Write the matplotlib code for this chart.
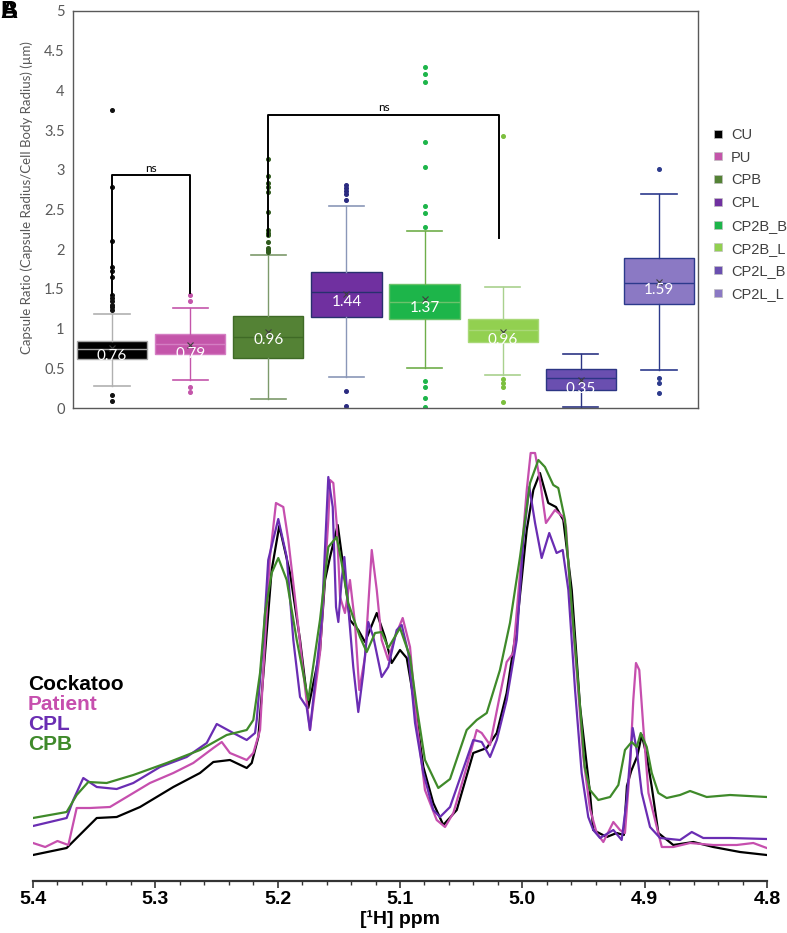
import matplotlib
matplotlib.use('Agg')
from matplotlib import pyplot as plt
from matplotlib.lines import Line2D
from matplotlib.ticker import MultipleLocator, FormatStrFormatter

# ---------------- box plot data (capsule ratio) ----------------
groups = ['CU', 'PU', 'CPB', 'CPL', 'CP2B_B', 'CP2B_L', 'CP2L_B', 'CP2L_L']
q1 = [0.62, 0.68, 0.63, 1.15, 1.12, 0.83, 0.23, 1.31]
med = [0.74, 0.81, 0.89, 1.46, 1.34, 0.98, 0.38, 1.58]
q3 = [0.85, 0.93, 1.16, 1.71, 1.56, 1.12, 0.49, 1.89]
whislo = [0.28, 0.35, 0.11, 0.39, 0.50, 0.42, 0.01, 0.48]
whishi = [1.18, 1.26, 1.93, 2.55, 2.23, 1.52, 0.68, 2.70]
means = [0.76, 0.79, 0.96, 1.44, 1.37, 0.96, 0.35, 1.59]
fliers = [
    [0.09, 0.17, 1.23, 1.27, 1.30, 1.35, 1.38, 1.42, 1.65, 1.72, 1.78, 2.10, 2.78, 3.75],
    [0.20, 0.26, 1.35, 1.42],
    [1.96, 1.99, 2.02, 2.09, 2.18, 2.21, 2.24, 2.47, 2.72, 2.78, 2.84, 2.92, 3.13],
    [0.02, 0.21, 2.62, 2.69, 2.73, 2.77, 2.81],
    [0.01, 0.12, 0.27, 0.34, 2.28, 2.46, 2.55, 3.04, 3.35, 4.10, 4.21, 4.29],
    [0.07, 0.26, 0.31, 0.37, 3.42],
    [],
    [0.19, 0.32, 0.38, 3.01],
]
# significance brackets
br_left = [0, 2]
br_right = [1, 4.95]
br_top = [2.93, 3.69]
br_left_low = [1.42, 2.16]
br_right_low = [1.45, 2.14]
br_text = ['ns', 'ns']

# ---------------- NMR spectra ----------------
cockatoo_ppm = [5.400, 5.3725, 5.3684, 5.3479, 5.3316, 5.3125, 5.2853, 5.2635, 5.2526, 5.2390,
                5.2253, 5.2212, 5.2158, 5.2103, 5.2049, 5.1987, 5.1899, 5.1817, 5.1750, 5.1654,
                5.1613, 5.1572, 5.1509, 5.1463, 5.1409, 5.1341, 5.1286, 5.1190, 5.1123, 5.1068,
                5.1000, 5.0945, 5.0877, 5.0809, 5.0728, 5.0646, 5.0536, 5.0401, 5.0291, 5.0209,
                5.0128, 5.0046, 4.9964, 4.9910, 4.9856, 4.9788, 4.9725, 4.9665, 4.9596, 4.9528,
                4.9447, 4.9420, 4.9310, 4.9229, 4.9170, 4.9145, 4.9110, 4.9060, 4.9024, 4.8983,
                4.8942, 4.8888, 4.8766, 4.8602, 4.8439, 4.8221, 4.8002]
cockatoo_int = [26, 33, 38, 63, 64, 74, 94, 108, 119, 121,
                113, 118, 144, 228, 311, 355, 308, 241, 173, 230,
                301, 324, 356, 314, 261, 251, 239, 268, 244, 218,
                231, 223, 174, 114, 78, 56, 71, 128, 133, 148,
                188, 254, 351, 391, 408, 378, 374, 361, 291, 174,
                88, 51, 44, 48, 46, 95, 110, 125, 146, 125,
                94, 48, 36, 39, 34, 29, 26]

patient_ppm = [5.400, 5.390, 5.380, 5.3711, 5.3643, 5.3534, 5.3371, 5.3180, 5.3044, 5.2853,
               5.2690, 5.2526, 5.2457, 5.2390, 5.2253, 5.2199, 5.2144, 5.2103, 5.2063, 5.2014,
               5.1954, 5.1913, 5.1844, 5.1790, 5.1736, 5.1654, 5.1586, 5.1572, 5.1545, 5.1518,
               5.1490, 5.1450, 5.1409, 5.1368, 5.1333, 5.1286, 5.1231, 5.1190, 5.1150, 5.1096,
               5.1041, 5.0978, 5.0918, 5.0863, 5.0796, 5.0700, 5.0632, 5.0564, 5.0455, 5.0373,
               5.0332, 5.0264, 5.0196, 5.0128, 5.0074, 5.0019, 4.9964, 4.9932, 4.9896, 4.9856,
               4.9807, 4.9733, 4.9665, 4.9643, 4.9610, 4.9555, 4.9502, 4.9447, 4.9392, 4.9338,
               4.9256, 4.9202, 4.9161, 4.9120, 4.9093, 4.9071, 4.9044, 4.9011, 4.8969, 4.8901,
               4.8860, 4.8766, 4.8629, 4.8439, 4.8248, 4.8112, 4.8002]
patient_int = [38, 34, 40, 36, 73, 73, 74, 88, 98, 108,
               118, 133, 139, 128, 121, 128, 151, 241, 324, 378,
               374, 341, 268, 208, 151, 228, 361, 401, 398, 358,
               284, 268, 301, 258, 191, 224, 331, 291, 241, 221,
               244, 263, 234, 158, 91, 61, 54, 68, 114, 151,
               148, 136, 178, 219, 228, 308, 391, 428, 428, 401,
               358, 371, 364, 354, 291, 208, 124, 72, 48, 39,
               59, 51, 48, 114, 181, 218, 211, 154, 88, 54,
               34, 34, 38, 36, 36, 38, 33]

cpl_ppm = [5.400, 5.3725, 5.3671, 5.3589, 5.3479, 5.3316, 5.3180, 5.2962, 5.2744, 5.2580,
           5.2498, 5.2363, 5.2253, 5.2185, 5.2171, 5.2117, 5.2077, 5.1995, 5.1926, 5.1872,
           5.1817, 5.1763, 5.1736, 5.1640, 5.1586, 5.1550, 5.1523, 5.1504, 5.1477, 5.1455,
           5.1423, 5.1382, 5.1341, 5.1300, 5.1259, 5.1218, 5.1150, 5.1096, 5.1027, 5.0986,
           5.0932, 5.0877, 5.0809, 5.0728, 5.0673, 5.0591, 5.0401, 5.0332, 5.0264, 5.0209,
           5.0128, 5.0046, 4.9992, 4.9943, 4.9896, 4.9842, 4.9780, 4.9720, 4.9670, 4.9624,
           4.9569, 4.9515, 4.9461, 4.9420, 4.9365, 4.9256, 4.9188, 4.9147, 4.9098, 4.9065,
           4.9024, 4.8956, 4.8874, 4.8711, 4.8615, 4.8521, 4.8302, 4.8002]
cpl_int = [55, 63, 81, 103, 94, 92, 98, 114, 124, 138,
           157, 148, 141, 148, 161, 241, 321, 362, 324, 241,
           184, 174, 151, 261, 404, 374, 274, 259, 301, 324,
           274, 214, 169, 208, 259, 244, 204, 214, 251, 256,
           228, 158, 108, 71, 64, 74, 141, 139, 124, 141,
           181, 241, 341, 394, 358, 323, 348, 328, 331, 291,
           191, 108, 64, 51, 43, 51, 41, 81, 153, 131,
           88, 54, 43, 41, 49, 43, 43, 42]

cpb_ppm = [5.400, 5.3725, 5.3643, 5.3548, 5.3398, 5.3180, 5.2907, 5.2635, 5.2417, 5.2253,
           5.2199, 5.2144, 5.2103, 5.2049, 5.1995, 5.1926, 5.1844, 5.1750, 5.1654, 5.1586,
           5.1518, 5.1477, 5.1423, 5.1327, 5.1272, 5.1204, 5.1150, 5.1096, 5.1000, 5.0918,
           5.0863, 5.0796, 5.0687, 5.0591, 5.0455, 5.0373, 5.0291, 5.0183, 5.0101, 5.0019,
           4.9937, 4.9869, 4.9815, 4.9747, 4.9706, 4.9651, 4.9596, 4.9528, 4.9490, 4.9447,
           4.9379, 4.9283, 4.9215, 4.9161, 4.9106, 4.9065, 4.9032, 4.8983, 4.8942, 4.8888,
           4.8820, 4.8711, 4.8629, 4.8493, 4.8302, 4.8002]
cpb_int = [63, 69, 86, 99, 98, 106, 118, 131, 146, 151,
           161, 208, 268, 308, 323, 301, 241, 181, 261, 334,
           344, 318, 278, 244, 229, 248, 249, 233, 253, 224,
           174, 121, 93, 102, 151, 161, 168, 211, 258, 324,
           398, 421, 414, 396, 393, 361, 274, 174, 114, 91,
           81, 84, 96, 131, 139, 134, 148, 134, 108, 88,
           83, 86, 90, 84, 86, 84]

spec_names = ['Cockatoo', 'Patient', 'CPL', 'CPB']
spec_ppm = [cockatoo_ppm, patient_ppm, cpl_ppm, cpb_ppm]
spec_int = [cockatoo_int, patient_int, cpl_int, cpb_int]
spec_colors = ['#000000', '#c64fae', '#6a2db3', '#3f8a2a']

# ---------------- styles ----------------
face = ['#000000', '#c455aa', '#548235', '#7030a0', '#1db54a', '#92d050', '#6a4fb0', '#8b79c4']
edge = ['#a6a6a6', '#d47ec3', '#3f6a26', '#28306e', '#6cc26b', '#a9d878', '#2c3584', '#2c3a8c']
whisk = ['#b0b0b0', '#c455aa', '#7d9a6b', '#8a97b8', '#6fae4a', '#a9d18e', '#2c3584', '#2c3a8c']
flier_c = ['#111111', '#c455aa', '#2f5a1c', '#2a2a80', '#1db54a', '#7cbf3e', '#2c3584', '#2c3a8c']

fig = plt.figure(figsize=(7.87, 9.33), dpi=100)

# ---------- panel A: box plot ----------
ax1 = fig.add_axes([73/787, 1-408/933, 625/787, 397/933])
stats = []
for i in range(len(groups)):
    stats.append(dict(med=med[i], q1=q1[i], q3=q3[i], whislo=whislo[i], whishi=whishi[i],
                      mean=means[i], fliers=fliers[i], label=groups[i]))
res = ax1.bxp(stats, positions=range(len(groups)), widths=0.9, patch_artist=True,
              showmeans=True, showfliers=True)
for i in range(len(groups)):
    b = res['boxes'][i]
    b.set_facecolor(face[i]); b.set_edgecolor(edge[i]); b.set_linewidth(1)
    res['medians'][i].set(color=edge[i] if i != 0 else '#a6a6a6', linewidth=1)
    for w in res['whiskers'][2*i:2*i+2]:
        w.set(color=whisk[i], linewidth=1)
    for c in res['caps'][2*i:2*i+2]:
        c.set(color=whisk[i], linewidth=1.2)
    res['fliers'][i].set(marker='o', markersize=2.6, markerfacecolor=flier_c[i],
                         markeredgecolor=flier_c[i], linestyle='none')
    res['means'][i].set(marker='x', markersize=5, markeredgecolor='#404040',
                        markerfacecolor='none', markeredgewidth=0.8)
    ax1.annotate(f'{means[i]:.2f}', (i, means[i]), xytext=(0, -1), textcoords='offset points',
                 ha='center', va='top', color='white', fontsize=11, family='Lato')

for k in range(len(br_left)):
    ax1.plot([br_left[k], br_left[k], br_right[k], br_right[k]],
             [br_left_low[k], br_top[k], br_top[k], br_right_low[k]], color='black', lw=1.4)
    ax1.text((br_left[k]+br_right[k])/2, br_top[k]+0.02, br_text[k], ha='center', va='bottom',
             fontsize=8.5, family='Lato')

ax1.set_xlim(-0.5, 7.5)
ax1.set_ylim(0, 5)
ax1.set_xticks([])
ax1.set_yticks([0, 0.5, 1, 1.5, 2, 2.5, 3, 3.5, 4, 4.5, 5])
ax1.set_yticklabels(['0', '0.5', '1', '1.5', '2', '2.5', '3', '3.5', '4', '4.5', '5'],
                    family='Lato', fontsize=10.5, color='#595959')
ax1.tick_params(axis='y', length=0, pad=6)
for s in ax1.spines.values():
    s.set_color('#595959'); s.set_linewidth(1)
ax1.set_ylabel('Capsule Ratio (Capsule Radius/Cell Body Radius) (µm)', family='Lato',
               fontsize=9.5, color='#595959')
ax1.yaxis.set_label_coords(-0.064, 0.53)

handles = [Line2D([], [], marker='s', linestyle='none', markersize=6, markerfacecolor=face[i],
                  markeredgecolor='#bfbfbf', markeredgewidth=0.5) for i in range(len(groups))]
fig.legend(handles, groups, loc='upper left', bbox_to_anchor=(706/787, 1-122/933),
           frameon=False, prop={'family': 'Liberation Sans', 'size': 10.5}, labelcolor='#404040',
           handlelength=0.8, handletextpad=0.5, labelspacing=0.6, borderaxespad=0)

# ---------- panel B: NMR spectra ----------
ax2 = fig.add_axes([33/787, 52/933, 734/787, 440/933])
for k in range(len(spec_names)):
    ax2.plot(spec_ppm[k], spec_int[k], color=spec_colors[k], lw=1.6)
ax2.set_xlim(5.4, 4.8)
ax2.set_ylim(0, 440)
ax2.set_yticks([])
for s in ['left', 'top', 'right']:
    ax2.spines[s].set_visible(False)
ax2.spines['bottom'].set_color('#333333')
ax2.spines['bottom'].set_linewidth(1.6)
ax2.xaxis.set_major_locator(MultipleLocator(0.1))
ax2.xaxis.set_minor_locator(MultipleLocator(0.02))
ax2.xaxis.set_major_formatter(FormatStrFormatter('%.1f'))
ax2.tick_params(axis='x', which='major', length=5, width=1.2, color='#333333', pad=2)
ax2.tick_params(axis='x', which='minor', length=3, width=1, color='#333333')
for t in ax2.get_xticklabels():
    t.set_family('Liberation Sans'); t.set_fontweight('bold'); t.set_fontsize(14)
ax2.set_xlabel('[¹H] ppm', family='Liberation Sans', fontweight='bold', fontsize=14, labelpad=2)

for k in range(len(spec_names)):
    fig.text(28/787, 1-(684+20*k)/933, spec_names[k], color=spec_colors[k], va='center',
             ha='left', family='Liberation Sans', fontweight='bold', fontsize=15)

# overlapping panel letters
fig.text(0.0, 1.0, 'A', family='Liberation Sans', fontweight='bold', fontsize=17, va='top')
fig.text(0.0, 1.0, 'B', family='Liberation Sans', fontweight='bold', fontsize=17, va='top')

fig.savefig('out.png', dpi=100)
